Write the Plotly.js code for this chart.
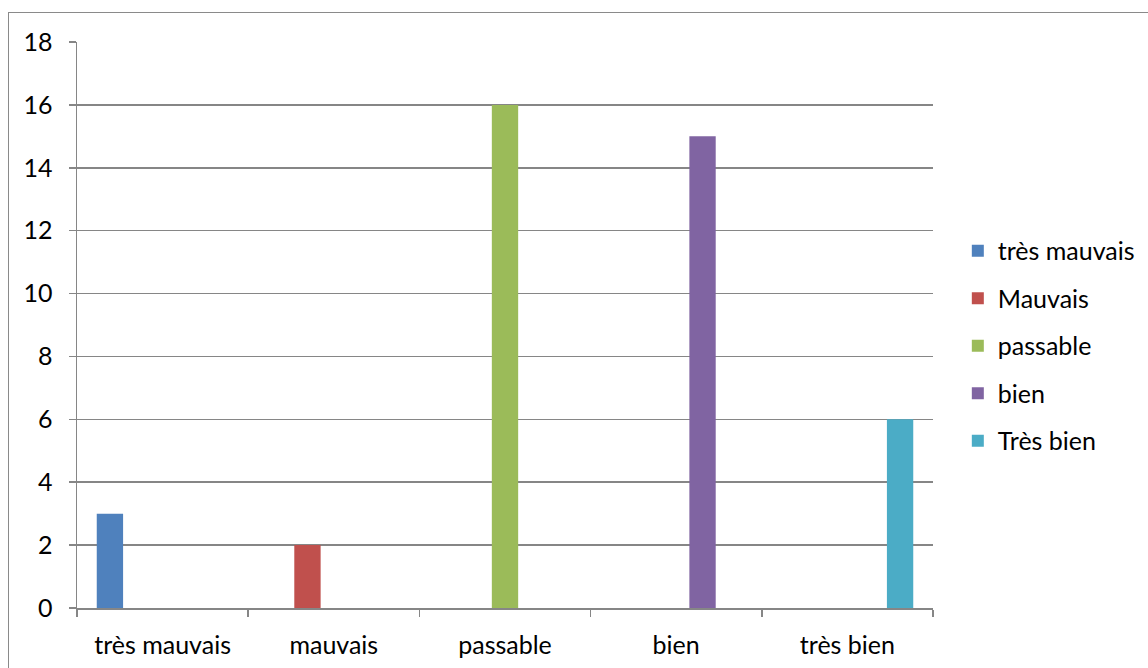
<!DOCTYPE html>
<html><head><meta charset="utf-8">
<script src="https://cdn.plot.ly/plotly-3.0.1.min.js"></script>
<style>
html,body{margin:0;padding:0;background:#fff;}
#chart{width:1148px;height:668px;position:absolute;left:0;top:0;}
#frame{position:absolute;left:8px;top:12px;width:1160px;height:680px;border:1.5px solid #8a8a8a;pointer-events:none;}
</style></head>
<body>
<div id="chart"></div>
<div id="frame"></div>
<script>
const categories = ["très mauvais", "mauvais", "passable", "bien", "très bien"];
const seriesNames = ["très mauvais", "Mauvais", "passable", "bien", "Très bien"];
const seriesValues = [3, 2, 16, 15, 6];
const colors = ["#4F81BD", "#C0504D", "#9BBB59", "#8064A2", "#4BACC6"];
const yTicks = [0, 2, 4, 6, 8, 10, 12, 14, 16, 18];

const FONT = "Lato, 'Open Sans', sans-serif";
const FS = 25;
const traces = seriesNames.map((name, i) => ({
  type: "bar",
  name: name,
  x: categories,
  y: categories.map((c, j) => (j === i ? seriesValues[i] : null)),
  marker: {color: colors[i]},
  legendgroup: "g" + i,
  hoverinfo: "x+y+name"
}));

const layout = {
  width: 1148, height: 668,
  paper_bgcolor: "#fff", plot_bgcolor: "#fff",
  margin: {l: 77, r: 215, t: 42, b: 60, autoexpand: false},
  barmode: "group",
  bargap: 1.5 / 6.5,
  bargroupgap: 0,
  font: {family: FONT, size: FS, color: "#000"},
  xaxis: {
    type: "category",
    categoryorder: "array", categoryarray: categories,
    tickvals: categories, ticktext: categories,
    showgrid: false, zeroline: false,
    showline: true, linecolor: "#868686", linewidth: 1.5,
    ticks: "outside", tickson: "boundaries", ticklen: 7, tickcolor: "#868686", tickwidth: 1.5,
    tickfont: {family: FONT, size: FS, color: "#000"},
    ticklabelstandoff: 14,
    automargin: false,
    range: [-0.5, 4.5]
  },
  yaxis: {
    range: [0, 18],
    tickvals: yTicks, ticktext: yTicks.map(String),
    showgrid: true, gridcolor: "#868686", gridwidth: 1.5,
    zeroline: false,
    showline: true, linecolor: "#868686", linewidth: 1.5,
    ticks: "outside", ticklen: 7, tickcolor: "#868686", tickwidth: 1.5,
    tickfont: {family: FONT, size: FS, color: "#000"},
    ticklabelstandoff: 11,
    automargin: false
  },
  showlegend: true,
  legend: {
    x: 1.029, xanchor: "left", y: 0.463, yanchor: "middle",
    traceorder: "grouped", tracegroupgap: 12,
    font: {family: FONT, size: FS, color: "#000"},
    bgcolor: "rgba(0,0,0,0)", borderwidth: 0
  }
};

Plotly.newPlot("chart", traces, layout, {displayModeBar: false, staticPlot: true});
</script>
</body></html>
